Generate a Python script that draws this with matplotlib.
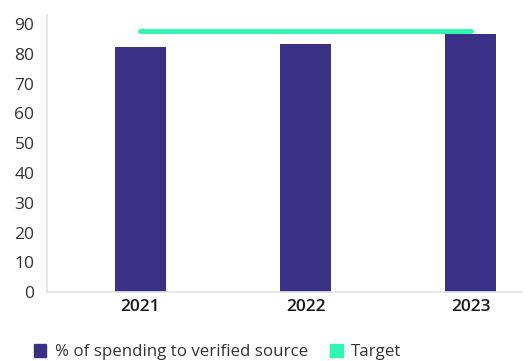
import matplotlib.pyplot as plt
from matplotlib.patches import Patch

# spending share per year, with the target line across all years
years = ["2021", "2022", "2023"]
verified_pct = [82.3, 83.3, 86.6]
target_pct = 87.7
y_ticks = [0, 10, 20, 30, 40, 50, 60, 70, 80, 90]

bar_color = "#3a3187"
target_color = "#2ef5b4"
spine_color = "#e3e3e3"

plt.rcParams["font.family"] = ["Open Sans", "DejaVu Sans"]

fig = plt.figure(figsize=(5.29, 3.61), dpi=100)
ax = fig.add_axes([0.0888, 0.191, 0.898, 0.767])

x = list(range(len(years)))
ax.bar(x, verified_pct, width=0.31, color=bar_color, zorder=2)
ax.plot([x[0], x[-1]], [target_pct, target_pct], color=target_color,
        lw=3.5, solid_capstyle="round", zorder=3)

ax.set_xlim(-0.565, 2.31)
ax.set_ylim(0, 93)
ax.set_yticks(y_ticks)
ax.set_xticks(x)
ax.set_xticklabels(years, fontsize=12.5, fontweight="semibold", color="#1a1a1a")
ax.tick_params(axis="y", labelsize=12.5, labelcolor="#333333", length=0, pad=9)
ax.tick_params(axis="x", length=0, pad=5)

for s in ["top", "right"]:
    ax.spines[s].set_visible(False)
for s in ["left", "bottom"]:
    ax.spines[s].set_color(spine_color)
    ax.spines[s].set_linewidth(1.2)

handles = [Patch(color=bar_color, label="% of spending to verified source"),
           Patch(color=target_color, label="Target")]
fig.legend(handles=handles, loc="center left", bbox_to_anchor=(0.035, 0.024),
           ncol=2, frameon=False, fontsize=12.2, handlelength=0.75,
           handleheight=0.75, handletextpad=0.5, columnspacing=1.3,
           labelcolor="#333333")

fig.savefig("out.png", dpi=100)
